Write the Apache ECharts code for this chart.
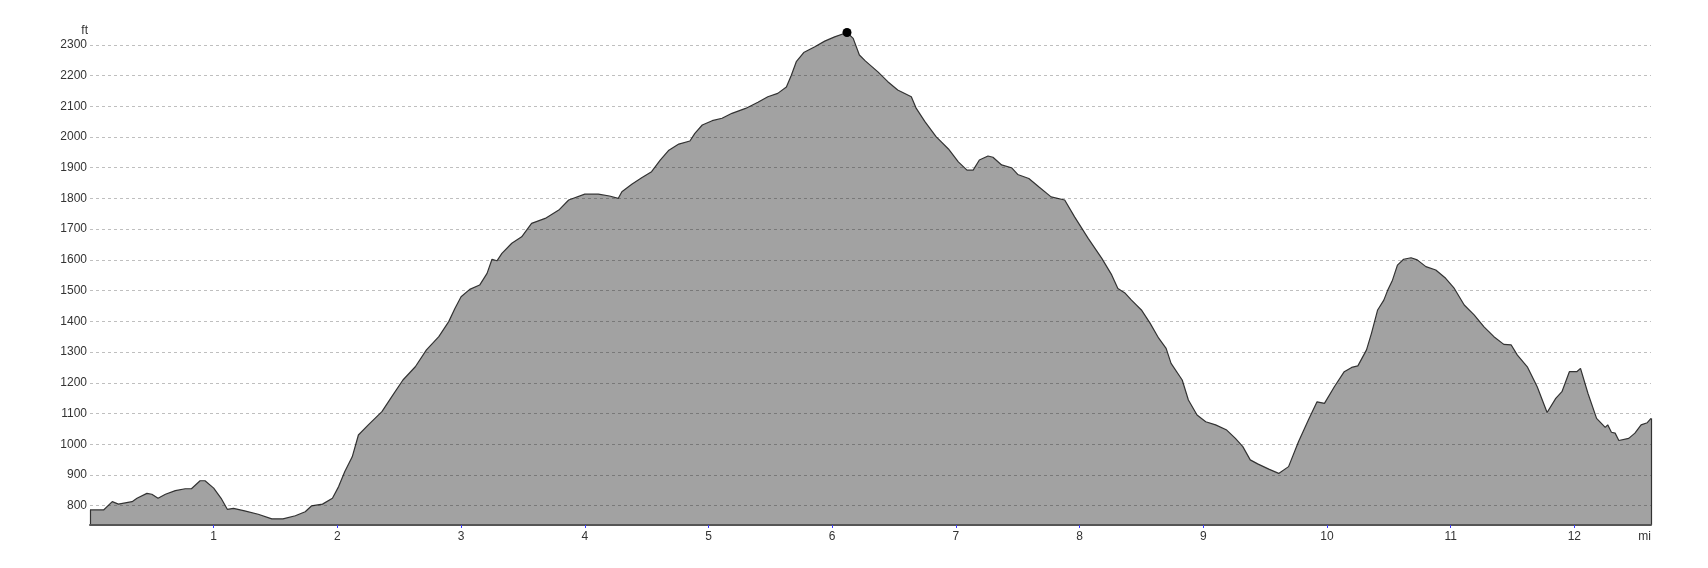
<!DOCTYPE html>
<html>
<head>
<meta charset="utf-8">
<script src="https://cdn.jsdelivr.net/npm/echarts@6/dist/echarts.min.js"></script>
<style>
html,body{margin:0;padding:0;background:#fff;}
#c{width:1708px;height:568px;}
</style>
</head>
<body>
<div id="c"></div>
<script>
// Distance along the route (miles)
const miles = [
  0.00,0.11,0.18,0.23,0.34,0.38,0.46,0.50,0.55,0.61,0.69,0.77,0.82,0.89,0.93,1.00,1.06,1.11,1.16,1.25,
  1.36,1.47,1.56,1.66,1.74,1.79,1.88,1.96,2.01,2.06,2.12,2.17,2.25,2.36,2.44,2.53,2.63,2.72,2.82,2.90,
  2.95,3.00,3.07,3.15,3.21,3.25,3.29,3.33,3.41,3.49,3.57,3.68,3.79,3.87,4.00,4.11,4.20,4.27,4.30,4.38,
  4.46,4.54,4.61,4.68,4.76,4.85,4.89,4.95,5.03,5.11,5.19,5.30,5.40,5.48,5.56,5.63,5.67,5.71,5.77,5.86,
  5.94,6.02,6.12,6.17,6.22,6.27,6.37,6.45,6.53,6.64,6.68,6.75,6.84,6.94,7.02,7.09,7.14,7.19,7.26,7.30,
  7.37,7.45,7.50,7.59,7.67,7.77,7.88,7.96,8.07,8.18,8.26,8.31,8.37,8.42,8.50,8.57,8.64,8.70,8.74,8.83,
  8.88,8.95,9.02,9.10,9.19,9.26,9.32,9.38,9.44,9.53,9.61,9.69,9.77,9.85,9.92,9.98,10.06,10.14,10.20,10.25,
  10.32,10.36,10.41,10.46,10.49,10.53,10.57,10.62,10.68,10.73,10.80,10.88,10.96,11.03,11.11,11.19,11.27,11.35,11.43,11.49,
  11.54,11.62,11.70,11.78,11.85,11.90,11.96,12.02,12.05,12.11,12.18,12.25,12.27,12.30,12.33,12.36,12.44,12.49,12.54,12.59,
  12.62
];
// Elevation (ft)
const elevFt = [
  786,786,813,805,813,824,840,837,824,837,849,855,855,881,881,857,824,788,791,783,
  772,757,757,767,780,799,805,824,862,911,959,1030,1063,1106,1155,1209,1252,1307,1350,1399,
  1442,1480,1504,1518,1556,1602,1597,1621,1654,1675,1719,1735,1762,1795,1814,1814,1808,1800,1822,1846,
  1867,1887,1925,1957,1977,1987,2012,2039,2053,2061,2077,2093,2113,2131,2142,2163,2201,2245,2275,2294,
  2312,2326,2340,2321,2267,2247,2212,2180,2153,2131,2093,2050,2001,1961,1919,1892,1892,1925,1938,1934,
  1909,1900,1878,1865,1838,1805,1795,1740,1670,1605,1551,1507,1491,1469,1437,1394,1345,1312,1263,1209,
  1144,1095,1073,1063,1046,1019,992,949,936,919,905,927,1008,1079,1138,1133,1187,1236,1250,1255,
  1307,1361,1437,1469,1500,1534,1583,1602,1607,1600,1578,1567,1540,1507,1453,1421,1382,1350,1325,1323,
  1290,1252,1187,1103,1149,1171,1236,1236,1247,1166,1084,1055,1063,1039,1036,1012,1019,1036,1063,1070,
  1084
];
const xTickLabels = [1,2,3,4,5,6,7,8,9,10,11,12];
const yTickLabels = [800,900,1000,1100,1200,1300,1400,1500,1600,1700,1800,1900,2000,2100,2200,2300];
const xUnit = 'mi';
const yUnit = 'ft';

const yMin = 737, yMax = 2345, xMax = 12.62;
const FONT = "'Liberation Sans', Arial, sans-serif";
const data = miles.map((m, i) => [m, elevFt[i]]);
const last = miles.length - 1;

const chart = echarts.init(document.getElementById('c'), null, {renderer: 'canvas'});
chart.setOption({
  animation: false,
  backgroundColor: '#ffffff',
  grid: {left: 90, right: 57, top: 31, bottom: 43, containLabel: false},
  xAxis: {
    type: 'value', min: 0, max: xMax, z: 5,
    axisLine: {show: true, onZero: false, lineStyle: {color: '#555555', width: 2}},
    axisTick: {show: true, customValues: xTickLabels, length: 3, lineStyle: {color: '#3a3aff', width: 1}},
    axisLabel: {customValues: xTickLabels, color: '#333', fontFamily: FONT, fontSize: 12, margin: 6,
      formatter: v => String(v)},
    splitLine: {show: false},
    name: xUnit, nameLocation: 'end', nameGap: 0,
    nameTextStyle: {align: 'right', verticalAlign: 'top', padding: [6, 0, 0, 0], color: '#333', fontFamily: FONT, fontSize: 12}
  },
  yAxis: {
    type: 'value', min: yMin, max: yMax, z: 5,
    axisLine: {show: false},
    axisTick: {show: false, customValues: yTickLabels},
    axisLabel: {customValues: yTickLabels, color: '#333', fontFamily: FONT, fontSize: 12, margin: 3,
      formatter: v => String(v)},
    splitLine: {show: true, lineStyle: {type: [3, 3], color: 'rgba(0,0,0,0.25)', width: 1}},
    name: yUnit, nameLocation: 'end', nameGap: 0,
    nameTextStyle: {align: 'right', verticalAlign: 'middle', padding: [0, 2, 0, 0], color: '#333', fontFamily: FONT, fontSize: 12}
  },
  series: [{
    type: 'line',
    data: data,
    z: 1,
    showSymbol: false,
    symbol: 'none',
    lineStyle: {color: '#333333', width: 1.2},
    areaStyle: {color: '#a2a2a2', opacity: 1},
    markPoint: {
      silent: true,
      symbol: 'circle', symbolSize: 9,
      itemStyle: {color: '#000'},
      label: {show: false},
      data: [{type: 'max'}]
    },
    markLine: {
      silent: true,
      symbol: ['none', 'none'],
      label: {show: false},
      lineStyle: {color: '#333333', width: 1.2, type: 'solid'},
      data: [
        [{coord: [miles[0], yMin]}, {coord: [miles[0], elevFt[0]]}],
        [{coord: [miles[last], yMin]}, {coord: [miles[last], elevFt[last]]}]
      ]
    }
  }]
});
</script>
</body>
</html>
